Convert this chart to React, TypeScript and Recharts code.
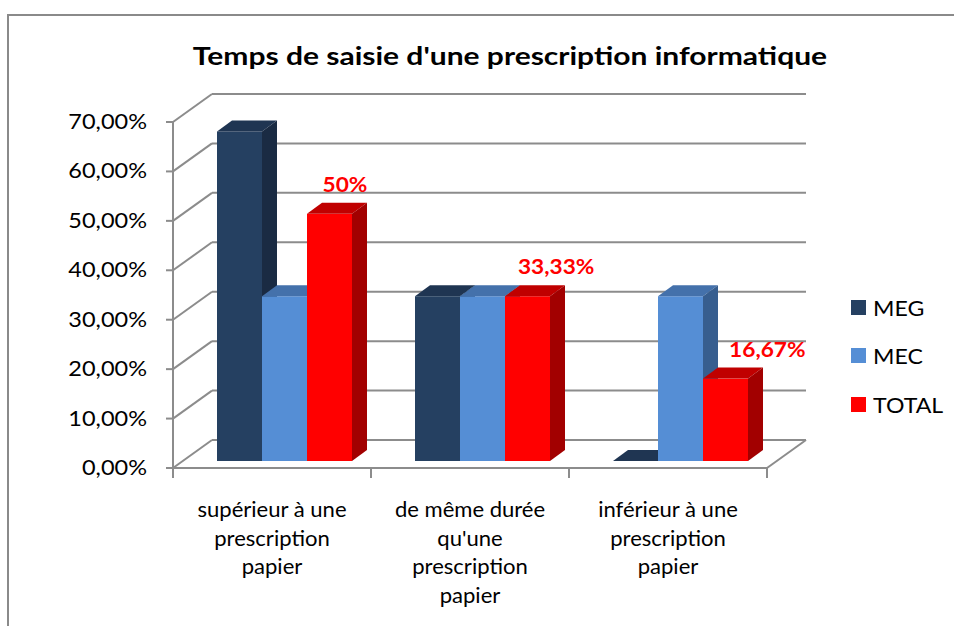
import React from 'react';
import { BarChart, Bar, XAxis, YAxis, CartesianGrid, LabelList } from 'recharts';

// ---------- data ----------
const categories = [
  'supérieur à une prescription papier',
  "de même durée qu'une prescription papier",
  'inférieur à une prescription papier',
];
const categoryLines = [
  ['supérieur à une', 'prescription', 'papier'],
  ['de même durée', "qu'une", 'prescription', 'papier'],
  ['inférieur à une', 'prescription', 'papier'],
];
const megValues = [0.6667, 0.3333, 0];
const mecValues = [0.3333, 0.3333, 0.3333];
const totalValues = [0.5, 0.3333, 0.1667];
const totalLabels = ['50%', '33,33%', '16,67%'];
const yTicks = [0, 0.1, 0.2, 0.3, 0.4, 0.5, 0.6, 0.7];
const seriesNames = ['MEG', 'MEC', 'TOTAL'];
const title = "Temps de saisie d'une prescription informatique";

const data = categories.map((c, i) => ({
  name: c,
  MEG: megValues[i],
  MEC: mecValues[i],
  TOTAL: totalValues[i],
  label: totalLabels[i],
}));

// ---------- styles ----------
const W = 954;
const H = 626;
const FONT = 'Lato, "Open Sans", sans-serif';
const GRID = '#8c8c8c';
const PLOT_LEFT = 185;
const PLOT_RIGHT = 779;
const PLOT_TOP = 115;
const PLOT_BOTTOM = 461;
const FRONT_DX = -12;
const FRONT_DY = 7;
const DEPTH_X = 39;
const DEPTH_Y = -28;
const BAR_DX = 15;
const BAR_DY = 11;

const colors: Record<string, { front: string; top: string; side: string }> = {
  MEG: { front: '#254061', top: '#1F3552', side: '#1A2B43' },
  MEC: { front: '#558ED5', top: '#4471AB', side: '#375E8F' },
  TOTAL: { front: '#FF0000', top: '#C00000', side: '#A20000' },
};

const fmtPct = (v: number) => (v * 100).toFixed(2).replace('.', ',') + '%';

const SText = ({ x, y, anchor = 'middle', size, sx = 1.1, weight = 'normal', fill = '#000', children }: any) => (
  <text
    transform={`translate(${x},${y}) scale(${sx},1)`}
    x={0}
    y={0}
    textAnchor={anchor}
    fontFamily={FONT}
    fontSize={size}
    fontWeight={weight}
    fill={fill}
  >
    {children}
  </text>
);

const Bar3D = (name: string) => (props: any) => {
  const { x, y, width, height } = props;
  if (x == null || y == null) return null;
  const c = colors[name];
  const h = Math.max(0, height || 0);
  return (
    <g>
      {h > 0 && <rect x={x} y={y} width={width} height={h} fill={c.front} />}
      <polygon
        points={`${x},${y} ${x + BAR_DX},${y - BAR_DY} ${x + width + BAR_DX},${y - BAR_DY} ${x + width},${y}`}
        fill={c.top}
      />
      {h > 0 && (
        <polygon
          points={`${x + width},${y} ${x + width + BAR_DX},${y - BAR_DY} ${x + width + BAR_DX},${y + h - BAR_DY} ${x + width},${y + h}`}
          fill={c.side}
        />
      )}
    </g>
  );
};

const GridLine = (props: any) => {
  const { x1, x2, y1, index, y, height } = props;
  const fx1 = x1 + FRONT_DX;
  const fx2 = x2 + FRONT_DX;
  const fy = y1 + FRONT_DY;
  const bx1 = fx1 + DEPTH_X;
  const bx2 = fx2 + DEPTH_X;
  const by = fy + DEPTH_Y;
  const bottomFront = (y ?? PLOT_TOP) + (height ?? 0) + FRONT_DY;
  const isZero = Math.abs(y1 - ((y ?? 0) + (height ?? 0))) < 1;
  const isTop = Math.abs(y1 - (y ?? 0)) < 1;
  return (
    <g key={`g-${index}`}>
      <line x1={bx1} y1={by} x2={bx2} y2={by} stroke={GRID} strokeWidth={2} />
      <line x1={fx1} y1={fy} x2={bx1} y2={by} stroke={GRID} strokeWidth={2} />
      <line x1={fx1 - 7} y1={fy} x2={fx1} y2={fy} stroke={GRID} strokeWidth={2} />
      {isTop && <line x1={fx1} y1={fy} x2={fx1} y2={bottomFront} stroke={GRID} strokeWidth={2} />}
      {isZero && (
        <g>
          <line x1={fx1} y1={fy} x2={fx2} y2={fy} stroke={GRID} strokeWidth={2} />
          <line x1={fx2} y1={fy} x2={bx2} y2={by} stroke={GRID} strokeWidth={2} />
        </g>
      )}
    </g>
  );
};

const YTick = (props: any) => {
  const { y, payload } = props;
  return (
    <SText x={PLOT_LEFT + FRONT_DX - 26} y={y + FRONT_DY + 7} anchor="end" size={21} sx={1.12}>
      {fmtPct(payload.value)}
    </SText>
  );
};

const band = (PLOT_RIGHT - PLOT_LEFT) / categories.length;

const XTick = (props: any) => {
  const { x, payload, index } = props;
  const i = categories.indexOf(payload.value);
  const lines = categoryLines[i] || [payload.value];
  const cx = x + FRONT_DX;
  const fy = PLOT_BOTTOM + FRONT_DY;
  return (
    <g>
      <line x1={cx - band / 2} y1={fy} x2={cx - band / 2} y2={fy + 10} stroke={GRID} strokeWidth={2} />
      {index === categories.length - 1 && (
        <line x1={cx + band / 2} y1={fy} x2={cx + band / 2} y2={fy + 10} stroke={GRID} strokeWidth={2} />
      )}
      {lines.map((l: string, k: number) => (
        <SText key={k} x={cx} y={517 + k * 28.5} size={21} sx={1.05}>
          {l}
        </SText>
      ))}
    </g>
  );
};

const TotalLabel = (props: any) => {
  const { x, y, width, height, value } = props;
  const dx = 55 - 0.16 * (height || 0);
  return (
    <SText x={x + width / 2 + dx} y={y - 22} size={21} sx={1.08} weight="bold" fill="#FF0000">
      {value}
    </SText>
  );
};

export default function App() {
  return (
    <div style={{ position: 'absolute', left: 0, top: 0, width: W, height: H, overflow: 'hidden', background: '#fff' }}>
      <div
        style={{
          position: 'absolute',
          left: 7,
          top: 14,
          width: 1000,
          height: 700,
          border: '2px solid #8a8a8a',
          boxSizing: 'border-box',
        }}
      />
      <div style={{ position: 'absolute', left: 0, top: 0 }}>
        <BarChart
          width={W}
          height={H}
          data={data}
          margin={{ top: PLOT_TOP, right: W - PLOT_RIGHT, bottom: H - PLOT_BOTTOM - 30, left: PLOT_LEFT - 60 }}
          barGap={0}
          barSize={45}
        >
          <SText x={510} y={65} size={25} sx={1.2} weight="bold">
            {title}
          </SText>
          <CartesianGrid vertical={false} horizontal={(p: any) => <GridLine {...p} />} stroke={GRID} />
          <XAxis dataKey="name" axisLine={false} tickLine={false} height={30} tick={<XTick />} interval={0} />
          <YAxis
            width={60}
            domain={[0, 0.7]}
            ticks={yTicks}
            axisLine={false}
            tickLine={false}
            tick={<YTick />}
            interval={0}
          />
          <Bar dataKey="MEG" isAnimationActive={false} shape={Bar3D('MEG')} />
          <Bar dataKey="MEC" isAnimationActive={false} shape={Bar3D('MEC')} />
          <Bar dataKey="TOTAL" isAnimationActive={false} shape={Bar3D('TOTAL')}>
            <LabelList dataKey="label" content={<TotalLabel />} />
          </Bar>
        </BarChart>
      </div>
      <div style={{ position: 'absolute', left: 851, top: 283 }}>
        {seriesNames.map((s) => (
          <div key={s} style={{ display: 'flex', alignItems: 'center', height: 48.5 }}>
            <div style={{ width: 15, height: 15, background: colors[s].front, marginRight: 7 }} />
            <span
              style={{
                fontFamily: FONT,
                fontSize: 22,
                display: 'inline-block',
                transform: 'scaleX(1.05)',
                transformOrigin: 'left center',
              }}
            >
              {s}
            </span>
          </div>
        ))}
      </div>
    </div>
  );
}
